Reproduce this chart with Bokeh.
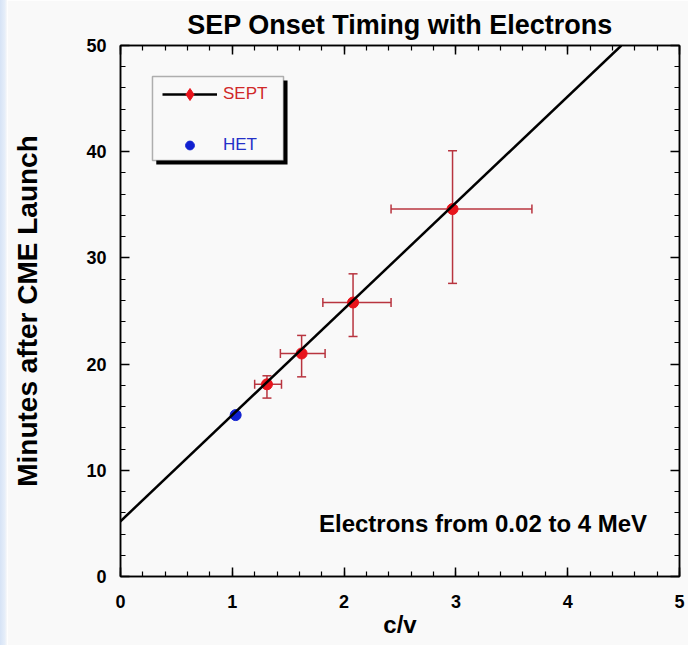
from bokeh.plotting import figure
from bokeh.layouts import row
from bokeh.models import (ColumnDataSource, Range1d, SingleIntervalTicker, LinearAxis, Div,
                          Whisker, TeeHead, Slope, Legend, LegendItem, BoxAnnotation, Label)
from bokeh.embed import file_html
from bokeh.resources import INLINE

# ---------------- data ----------------
sept_x = [1.31, 1.62, 2.08, 2.97]
sept_y = [18.1, 21.0, 25.8, 34.6]
sept_x_lo = [1.20, 1.43, 1.81, 2.42]
sept_x_hi = [1.44, 1.83, 2.42, 3.68]
sept_y_lo = [16.8, 18.8, 22.6, 27.6]
sept_y_hi = [18.9, 22.7, 28.5, 40.1]

het_x = [1.03]
het_y = [15.2]

fit_intercept = 5.2
fit_slope = 10.0

title_text = "SEP Onset Timing with Electrons"
x_label = "c/v"
y_label = "Minutes after CME Launch"
note_text = "Electrons from 0.02 to 4 MeV"

BG = "#f9f9f9"
FONT = "Liberation Sans"
STRIP = 7

p = figure(width=688 - STRIP, height=645, output_backend="svg", toolbar_location=None,
           x_range=Range1d(0, 5), y_range=Range1d(0, 50),
           min_border_left=120 - STRIP, min_border_right=9, min_border_top=45, min_border_bottom=69)
p.background_fill_color = BG
p.border_fill_color = BG
p.outline_line_color = "black"
p.outline_line_width = 1.5
p.xgrid.visible = False
p.ygrid.visible = False

p.title.text = title_text
p.title.align = "center"
p.title.vertical_align = "top"
p.title.text_font = FONT
p.title.text_font_size = "27px"
p.title.text_font_style = "bold"
p.title.text_color = "black"
p.title.standoff = 8

xt = SingleIntervalTicker(interval=1, num_minor_ticks=5)
yt = SingleIntervalTicker(interval=10, num_minor_ticks=5)

def style_axis(ax, labels=True):
    ax.axis_line_color = "black"
    ax.axis_line_width = 1.5
    ax.major_tick_in = 9
    ax.major_tick_out = 0
    ax.minor_tick_in = 5
    ax.minor_tick_out = 0
    ax.major_tick_line_color = "black"
    ax.minor_tick_line_color = "black"
    ax.major_tick_line_width = 1.5
    ax.minor_tick_line_width = 1.2
    if labels:
        ax.major_label_text_font = FONT
        ax.major_label_text_font_size = "18px"
        ax.major_label_text_font_style = "bold"
        ax.major_label_text_color = "black"
        ax.axis_label_text_font = FONT
        ax.axis_label_text_font_size = "28px"
        ax.axis_label_text_font_style = "bold"
        ax.axis_label_text_color = "black"
    else:
        ax.major_label_text_color = None
        ax.major_label_text_font_size = "1px"
        ax.major_label_standoff = 0

p.xaxis.ticker = xt
p.yaxis.ticker = yt
style_axis(p.xaxis[0])
style_axis(p.yaxis[0])
p.xaxis.axis_label = x_label
p.yaxis.axis_label = y_label
p.xaxis.major_label_standoff = 18
p.xaxis.axis_label_standoff = 0
p.xaxis.axis_label_text_font_size = "24px"
p.yaxis.major_label_standoff = 14
p.yaxis.axis_label_standoff = 40
p.yaxis.major_label_orientation = "horizontal"

top_ax = LinearAxis(ticker=SingleIntervalTicker(interval=1, num_minor_ticks=5))
right_ax = LinearAxis(ticker=SingleIntervalTicker(interval=10, num_minor_ticks=5))
style_axis(top_ax, labels=False)
style_axis(right_ax, labels=False)
p.add_layout(top_ax, "above")
p.add_layout(right_ax, "right")

# fit line
p.add_layout(Slope(gradient=fit_slope, y_intercept=fit_intercept,
                   line_color="black", line_width=2.5))

# error bars
src = ColumnDataSource(dict(x=sept_x, y=sept_y, xlo=sept_x_lo, xhi=sept_x_hi,
                            ylo=sept_y_lo, yhi=sept_y_hi))
EB = "#b8343f"
wy = Whisker(source=src, base="x", lower="ylo", upper="yhi", dimension="height",
             line_color=EB, line_width=1.5,
             upper_head=TeeHead(size=9, line_color=EB, line_width=1.5),
             lower_head=TeeHead(size=9, line_color=EB, line_width=1.5))
wx = Whisker(source=src, base="y", lower="xlo", upper="xhi", dimension="width",
             line_color=EB, line_width=1.5,
             upper_head=TeeHead(size=9, line_color=EB, line_width=1.5),
             lower_head=TeeHead(size=9, line_color=EB, line_width=1.5))
p.add_layout(wy)
p.add_layout(wx)

p.scatter("x", "y", source=src, marker="circle", size=11, fill_color="#e8141c", line_color="#e8141c")
p.scatter(het_x, het_y, marker="circle", size=11, fill_color="#1020d0", line_color="#1020d0")

# legend helpers (not drawn in the plot: NaN positions)
nan = float("nan")
leg_line = p.line([nan], [nan], line_color="black", line_width=2.5)
leg_dia = p.scatter([nan], [nan], marker="diamond", size=15, fill_color="#e8141c", line_color="#e8141c")
leg_het = p.scatter([nan], [nan], marker="circle", size=9, fill_color="#1020d0", line_color="#1020d0")

# legend box with shadow (data units)
p.add_layout(BoxAnnotation(left=0.32, right=1.494, top=46.7, bottom=38.8,
                           fill_color="black", fill_alpha=1.0, line_color=None))
p.add_layout(BoxAnnotation(left=0.286, right=1.458, top=47.08, bottom=39.17,
                           fill_color=BG, fill_alpha=1.0, line_color="black", line_width=1.5))

def make_legend(item, loc, color, gh):
    lg = Legend(items=[item], location=loc, padding=0, margin=0, spacing=0,
                glyph_width=55, glyph_height=gh, label_standoff=6,
                label_text_font=FONT, label_text_font_size="17px",
                label_text_color=color, border_line_color=None,
                background_fill_alpha=0.0)
    return lg

p.add_layout(make_legend(LegendItem(label="SEPT", renderers=[leg_line, leg_dia]), (42, 467), "#d02828", 30))
p.add_layout(make_legend(LegendItem(label="HET", renderers=[leg_het]), (42, 420), "#2430c8", 22))

p.add_layout(Label(x=4.71, y=5.0, text=note_text, text_align="right", text_baseline="middle",
                   text_font=FONT, text_font_size="24px", text_font_style="bold", text_color="black"))

strip = Div(width=STRIP, height=645, margin=0,
            styles={"background": "linear-gradient(to right, #d6e3f6, #e6eef9 70%, #f9f9f9)"})

layout = row(strip, p, spacing=0)
open("out.html", "w").write(file_html(layout, INLINE))
